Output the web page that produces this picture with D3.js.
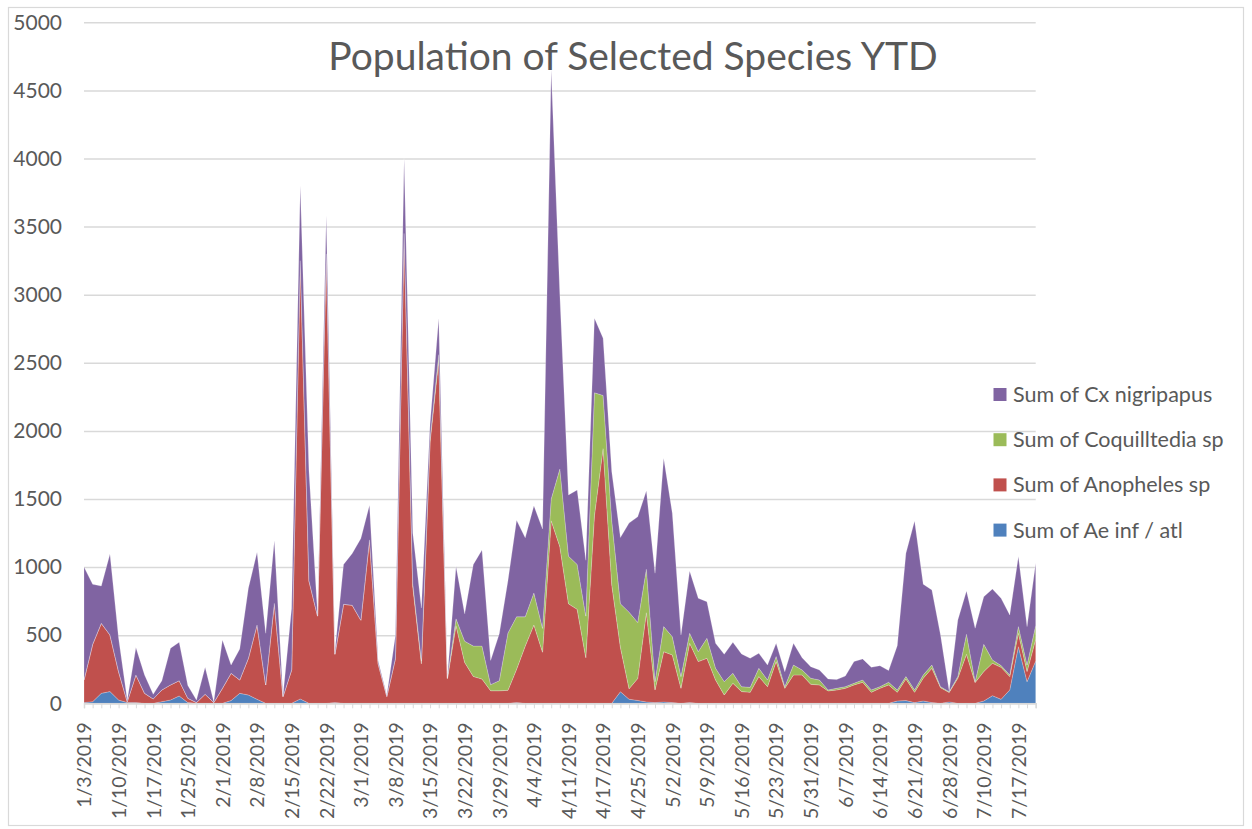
<!DOCTYPE html>
<html><head><meta charset="utf-8">
<script src="https://cdn.jsdelivr.net/npm/d3@7"></script>
<style>
body{margin:0;background:#fff;}
text{font-family:Lato,"Open Sans","Liberation Sans",sans-serif;}
</style>
</head><body>
<svg id="chart" width="1252" height="829"></svg>
<script>
const dates = [
"1/3/2019","1/4/2019","1/7/2019","1/8/2019","1/10/2019","1/11/2019","1/14/2019","1/15/2019",
"1/17/2019","1/18/2019","1/22/2019","1/23/2019","1/25/2019","1/28/2019","1/29/2019","1/31/2019",
"2/1/2019","2/4/2019","2/5/2019","2/7/2019","2/8/2019","2/11/2019","2/12/2019","2/14/2019",
"2/15/2019","2/18/2019","2/19/2019","2/21/2019","2/22/2019","2/25/2019","2/26/2019","2/28/2019",
"3/1/2019","3/4/2019","3/5/2019","3/7/2019","3/8/2019","3/11/2019","3/12/2019","3/14/2019",
"3/15/2019","3/18/2019","3/19/2019","3/21/2019","3/22/2019","3/25/2019","3/26/2019","3/28/2019",
"3/29/2019","4/1/2019","4/2/2019","4/3/2019","4/4/2019","4/5/2019","4/8/2019","4/9/2019",
"4/11/2019","4/12/2019","4/15/2019","4/16/2019","4/17/2019","4/18/2019","4/22/2019","4/23/2019",
"4/25/2019","4/26/2019","4/29/2019","4/30/2019","5/2/2019","5/3/2019","5/6/2019","5/7/2019",
"5/9/2019","5/10/2019","5/13/2019","5/14/2019","5/16/2019","5/17/2019","5/20/2019","5/21/2019",
"5/23/2019","5/24/2019","5/28/2019","5/29/2019","5/31/2019","6/3/2019","6/4/2019","6/6/2019",
"6/7/2019","6/10/2019","6/11/2019","6/13/2019","6/14/2019","6/17/2019","6/18/2019","6/20/2019",
"6/21/2019","6/24/2019","6/25/2019","6/27/2019","6/28/2019","7/1/2019","7/2/2019","7/8/2019",
"7/10/2019","7/11/2019","7/15/2019","7/16/2019","7/17/2019","7/18/2019","7/22/2019"
];

const aeInfAtl = [
5,12,73,86,24,5,5,0, 0,12,24,54,5,0,0,0, 0,20,73,61,29,0,0,0,
0,32,0,0,0,5,0,0, 0,0,0,0,0,0,0,0, 0,0,0,0,0,0,0,0,
0,0,5,0,0,0,0,0, 0,0,0,0,0,0,85,30, 21,10,5,10,5,0,5,0,
0,0,0,0,0,0,0,0, 0,0,0,0,0,0,0,0, 0,0,0,0,0,0,17,20,
5,17,5,0,10,0,0,0, 17,56,29,98,416,159,311
];
const anopheles = [
166,421,514,416,208,7,203,73, 32,86,111,112,32,5,66,5, 110,200,98,269,546,135,734,49,
245,3218,900,640,3300,355,727,720, 610,1200,290,50,330,3450,860,290, 1920,2520,180,570,300,197,178,92,
92,95,245,420,575,375,1340,1150, 730,690,335,1380,1870,870,326,76, 161,655,93,369,350,110,436,306,
330,171,61,147,86,81,196,122, 306,110,208,208,139,135,91,98, 110,135,154,81,110,135,64,159,
76,167,252,115,70,184,360,152, 216,238,235,98,98,74,159
];
const coquilltedia = [
0,0,0,0,0,0,0,0, 0,0,0,0,0,0,0,0, 0,0,0,0,0,0,0,0,
0,0,0,0,0,0,0,0, 0,0,0,0,0,0,20,20, 20,40,5,50,156,223,242,45,
74,421,385,215,235,175,160,570, 350,330,305,900,390,470,319,563, 411,320,61,184,134,86,73,73,
147,86,98,73,36,36,61,49, 37,12,73,37,45,36,7,12, 12,12,17,17,12,19,17,17,
17,24,24,7,5,12,147,7, 200,24,13,12,49,48,102
];
const cxNigripapus = [
829,441,274,594,245,12,201,135, 34,68,269,282,93,19,198,7, 355,61,228,514,534,379,461,7,
455,550,810,10,280,20,293,380, 600,255,20,10,170,550,370,390, 110,267,5,385,201,600,705,178,
344,384,709,580,640,730,3150,1280, 450,546,410,548,420,360,487,654, 776,575,796,1236,906,306,458,392,
269,183,201,228,240,213,110,110, 97,110,159,90,85,74,81,64, 78,159,155,166,154,86,325,905,
1241,666,551,380,5,416,318,392, 350,521,494,441,514,282,456
];

const seriesKeys = ["ae","anoph","coq","cx"];
const seriesNames = ["Sum of Ae inf / atl","Sum of Anopheles sp","Sum of Coquilltedia sp","Sum of Cx nigripapus"];
const seriesColors = ["#4F81BD","#C0504D","#9BBB59","#8064A2"];
const yTicks = [0,500,1000,1500,2000,2500,3000,3500,4000,4500,5000];
const chartTitle = "Population of Selected Species YTD";
const labelEvery = 4;

const table = dates.map((d,i)=>({date:d, ae:aeInfAtl[i], anoph:anopheles[i], coq:coquilltedia[i], cx:cxNigripapus[i]}));

const svg = d3.select("#chart");
const plotL = 84, plotR = 1035.7, plotT = 22.3, plotB = 703.3;

// outer frame
svg.append("rect").attr("x",8.5).attr("y",7.5).attr("width",1235).attr("height",818)
  .attr("fill","none").attr("stroke","#d9d9d9").attr("stroke-width",1.2);

const x = d3.scalePoint().domain(dates).range([plotL,plotR]).padding(0);
const y = d3.scaleLinear().domain([0,5000]).range([plotB,plotT]);

// gridlines
svg.append("g").attr("transform",`translate(${plotL},0)`)
  .call(d3.axisLeft(y).tickValues(yTicks).tickSize(-(plotR-plotL)).tickFormat(""))
  .call(g=>{g.select(".domain").remove();
    g.selectAll(".tick line").attr("stroke","#d9d9d9").attr("stroke-width",1.5);});

// y labels
svg.append("g").attr("transform",`translate(62,0)`)
  .call(d3.axisLeft(y).tickValues(yTicks).tickSize(0).tickPadding(0).tickFormat(d3.format("d")))
  .call(g=>{g.select(".domain").remove();
    g.selectAll("text").attr("fill","#595959").style("font-size","21px")
      .style("font-family","Lato,'Open Sans',sans-serif");});

// stacked areas
const stack = d3.stack().keys(seriesKeys);
const layers = stack(table);
const area = d3.area().x(d=>x(d.data.date)).y0(d=>y(d[0])).y1(d=>y(d[1]));
svg.append("g").selectAll("path").data(layers).join("path")
  .attr("d",area).attr("fill",(d,i)=>seriesColors[i])
  .attr("stroke","#ffffff").attr("stroke-opacity",0.35).attr("stroke-width",0.6);

// x axis
svg.append("g").attr("transform",`translate(0,${plotB})`)
  .call(d3.axisBottom(x).tickSize(5).tickPadding(0)
    .tickFormat((d,i)=> i%labelEvery===0 ? d : ""))
  .call(g=>{
    g.select(".domain").attr("stroke","#d9d9d9").attr("stroke-width",1.5);
    g.selectAll(".tick line").attr("stroke","#d9d9d9").attr("stroke-width",1);
    g.selectAll("text").attr("fill","#595959").style("font-size","19.5px")
      .style("font-family","Lato,'Open Sans',sans-serif")
      .attr("text-anchor","end").attr("dy","0.35em")
      .attr("transform","translate(0,19) rotate(-90)").attr("x",0).attr("y",0);
  });

// title
svg.append("text").attr("x",633).attr("y",70).attr("text-anchor","middle")
  .attr("fill","#595959").style("font-size","39px").text(chartTitle);

// legend (reverse order)
const legendOrder = [3,2,1,0];
const lg = svg.append("g");
legendOrder.forEach((si,k)=>{
  const cy = 394.5 + k*45.2;
  lg.append("rect").attr("x",993.5).attr("y",cy-6.5).attr("width",13).attr("height",13).attr("fill",seriesColors[si]);
  lg.append("text").attr("x",1013).attr("y",cy).attr("dy","0.35em")
    .attr("fill","#595959").style("font-size","21.5px").text(seriesNames[si]);
});
</script>
</body></html>
